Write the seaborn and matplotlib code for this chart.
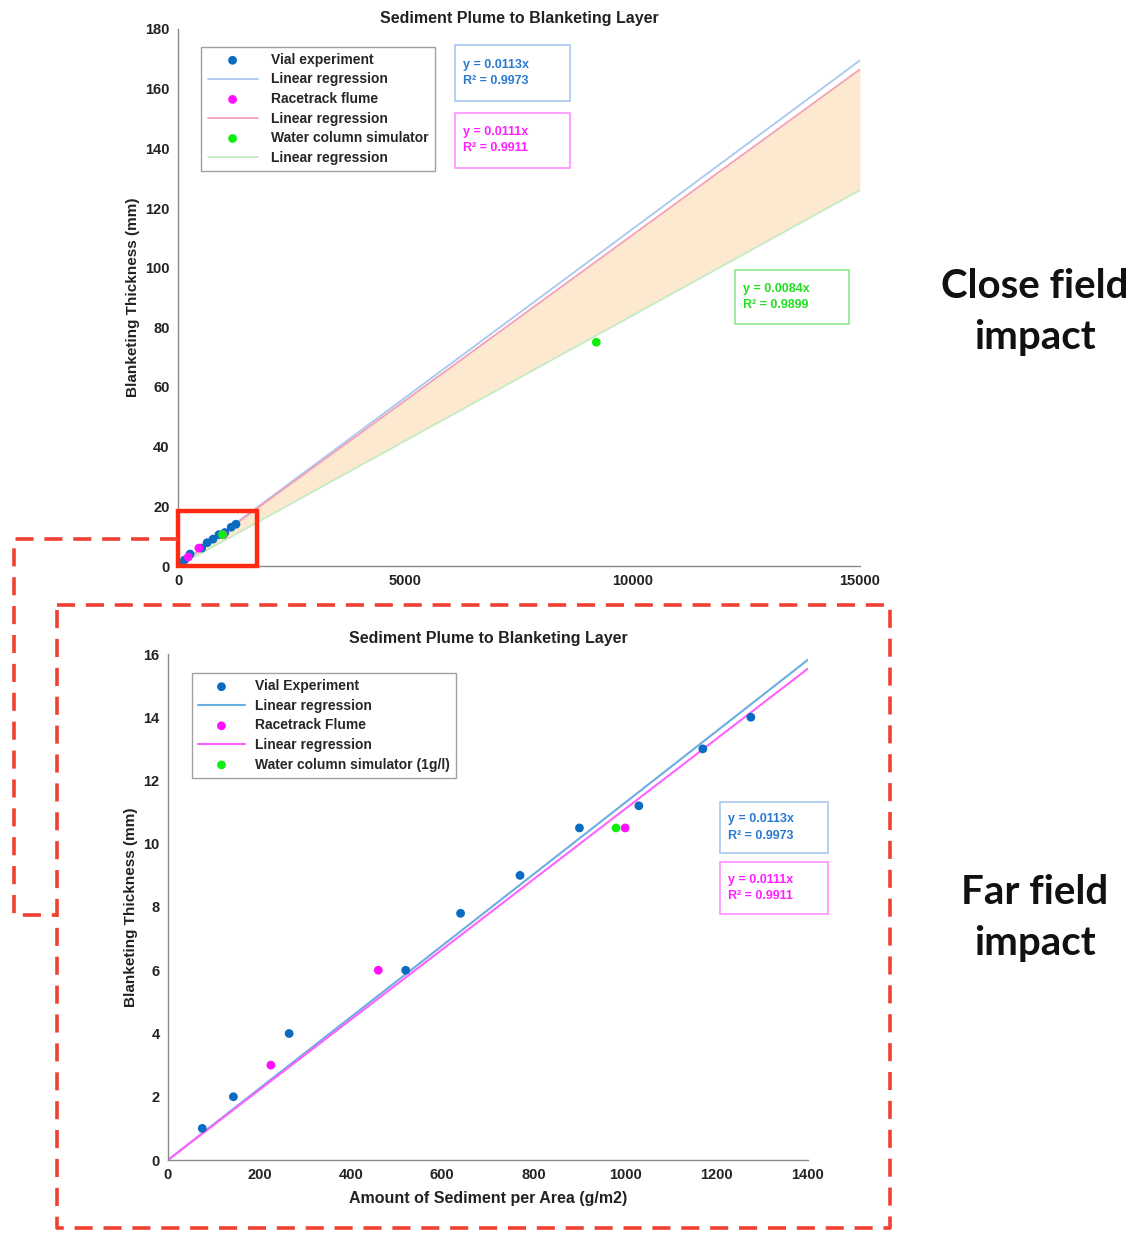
import matplotlib
matplotlib.use("Agg")
import matplotlib.pyplot as plt
from matplotlib.lines import Line2D
from matplotlib.patches import Rectangle
import numpy as np
import pandas as pd
import seaborn as sns

# data
vial_x = [75, 143, 265, 520, 640, 770, 900, 1030, 1170, 1275]
vial_y = [1, 2, 4, 6, 7.8, 9, 10.5, 11.2, 13, 14]
race_x = [225, 460, 1000]
race_y = [3, 6, 10.5]
water_x = [980, 9200]
water_y = [10.5, 75]
water_x_small = [980]
water_y_small = [10.5]

slope_vial, r2_vial = 0.0113, 0.9973
slope_race, r2_race = 0.0111, 0.9911
slope_water, r2_water = 0.0084, 0.9899

top_line_x = [0, 15000]
bot_line_x = [0, 1400]

top_xticks = [0, 5000, 10000, 15000]
top_yticks = list(range(0, 181, 20))
bot_xticks = list(range(0, 1401, 200))
bot_yticks = list(range(0, 17, 2))

title = "Sediment Plume to Blanketing Layer"
ylab = "Blanketing Thickness (mm)"
xlab = "Amount of Sediment per Area (g/m2)"

c_vial = "#0a6cc0"
c_race = "#ff10ff"
c_water = "#10ee10"
fill_c = "#fce9d0"

sns.set_theme(style="white")
plt.rcParams["font.family"] = ["Liberation Sans", "DejaVu Sans"]
plt.rcParams["font.weight"] = "bold"
plt.rcParams["axes.titleweight"] = "bold"
plt.rcParams["axes.labelweight"] = "bold"

W, H = 1140, 1234
fig = plt.figure(figsize=(11.4, 12.34), dpi=100)


def px_axes(l, t, r, b):
    return fig.add_axes([l / W, 1 - b / H, (r - l) / W, (b - t) / H])


def style(ax):
    sns.despine(ax=ax)
    for s in ["left", "bottom"]:
        ax.spines[s].set_color("#8a8a8a")
        ax.spines[s].set_linewidth(1.0)
    ax.tick_params(direction="in", length=4, color="#8a8a8a", labelsize=10.5,
                   labelcolor="#222222", pad=6)


def eq_box(ax, x, y, w, h, slope, r2, col, edge):
    ax.add_patch(Rectangle((x, y - h), w, h, transform=ax.transAxes, fill=False,
                           edgecolor=edge, lw=1.2, clip_on=False))
    ax.text(x + 0.012, y - h / 2, f"y = {slope:.4f}x\nR² = {r2:.4f}", transform=ax.transAxes,
            color=col, fontsize=9, va="center", ha="left", linespacing=1.5)


# ---------------- top: close field ----------------
ax1 = px_axes(178, 29, 860, 566)
tx = np.array(top_line_x)
ax1.fill_between(tx, slope_race * tx, slope_water * tx, color=fill_c, lw=0)
sns.scatterplot(x=vial_x, y=vial_y, ax=ax1, color=c_vial, s=40, edgecolor="none",
                label="Vial experiment", zorder=4)
sns.lineplot(x=top_line_x, y=[slope_vial * v for v in top_line_x], ax=ax1, color="#a8c8f0",
             lw=1.3, label="Linear regression")
sns.scatterplot(x=race_x, y=race_y, ax=ax1, color=c_race, s=40, edgecolor="none",
                label="Racetrack flume", zorder=4)
sns.lineplot(x=top_line_x, y=[slope_race * v for v in top_line_x], ax=ax1, color="#f5a0b8",
             lw=1.3, label="Linear regression")
sns.scatterplot(x=water_x, y=water_y, ax=ax1, color=c_water, s=40, edgecolor="none",
                label="Water column simulator", zorder=4)
sns.lineplot(x=top_line_x, y=[slope_water * v for v in top_line_x], ax=ax1, color="#c4ecc4",
             lw=1.3, label="Linear regression")
ax1.set_xlim(0, 15000)
ax1.set_ylim(0, 180)
ax1.set_xticks(top_xticks)
ax1.set_yticks(top_yticks)
ax1.set_title(title, fontsize=11.5, pad=4, color="#222222")
ax1.set_ylabel(ylab, fontsize=11, color="#222222")
ax1.set_xlabel("")
style(ax1)
ax1.legend(loc="upper left", bbox_to_anchor=(0.024, 0.98), frameon=True, fancybox=False,
           edgecolor="#8a8a8a", fontsize=10, handlelength=3.6, labelspacing=0.4,
           borderpad=0.45, handletextpad=1.0)
eq_box(ax1, 0.406, 0.970, 0.169, 0.104, slope_vial, r2_vial, "#2a7ad0", "#a8c8f0")
eq_box(ax1, 0.406, 0.844, 0.169, 0.102, slope_race, r2_race, "#ff20ff", "#ff90ff")
eq_box(ax1, 0.817, 0.551, 0.167, 0.100, slope_water, r2_water, "#20e020", "#90e890")
ax1.add_patch(Rectangle((0, 0), 1738, 18.4, fill=False, edgecolor="#ff2a10", lw=3.2,
                        clip_on=False, zorder=6))

# ---------------- bottom: far field ----------------
ax2 = px_axes(168, 654, 808, 1160)
sns.scatterplot(x=vial_x, y=vial_y, ax=ax2, color=c_vial, s=40, edgecolor="none",
                label="Vial Experiment", zorder=4)
sns.lineplot(x=bot_line_x, y=[slope_vial * v for v in bot_line_x], ax=ax2, color="#6aaee0",
             lw=1.5, label="Linear regression")
sns.scatterplot(x=race_x, y=race_y, ax=ax2, color=c_race, s=40, edgecolor="none",
                label="Racetrack Flume", zorder=4)
sns.lineplot(x=bot_line_x, y=[slope_race * v for v in bot_line_x], ax=ax2, color="#ff60ff",
             lw=1.5, label="Linear regression")
sns.scatterplot(x=water_x_small, y=water_y_small, ax=ax2, color=c_water, s=40, edgecolor="none",
                label="Water column simulator (1g/l)", zorder=4)
ax2.set_xlim(0, 1400)
ax2.set_ylim(0, 16)
ax2.set_xticks(bot_xticks)
ax2.set_yticks(bot_yticks)
ax2.set_title(title, fontsize=11.5, pad=8, color="#222222")
ax2.set_ylabel(ylab, fontsize=11, color="#222222")
ax2.set_xlabel(xlab, fontsize=11.5, color="#222222", labelpad=6)
style(ax2)
ax2.legend(loc="upper left", bbox_to_anchor=(0.026, 0.976), frameon=True, fancybox=False,
           edgecolor="#8a8a8a", fontsize=10, handlelength=3.4, labelspacing=0.4,
           borderpad=0.45, handletextpad=0.7)
eq_box(ax2, 0.8625, 0.7075, 0.169, 0.100, slope_vial, r2_vial, "#2a7ad0", "#a8c8f0")
eq_box(ax2, 0.8625, 0.589, 0.169, 0.102, slope_race, r2_race, "#ff20ff", "#ff90ff")

# ---------------- callout dashes and side labels ----------------
def dash(xs, ys):
    fig.add_artist(Line2D([x / W for x in xs], [1 - y / H for y in ys], color="#f04030",
                          lw=2.6, linestyle=(0, (5, 3))))


dash([57, 890, 890, 57, 57], [605, 605, 1228, 1228, 605])
dash([178, 14, 14, 57], [539, 539, 915, 915])

for txt, y in [("Close field\nimpact", 312), ("Far field\nimpact", 918)]:
    fig.text(1035 / W, 1 - y / H, txt, ha="center", va="center", fontsize=29,
             family=["Lato", "DejaVu Sans"], weight="bold", linespacing=1.45, color="#111111")

fig.savefig("out.png", dpi=100)
